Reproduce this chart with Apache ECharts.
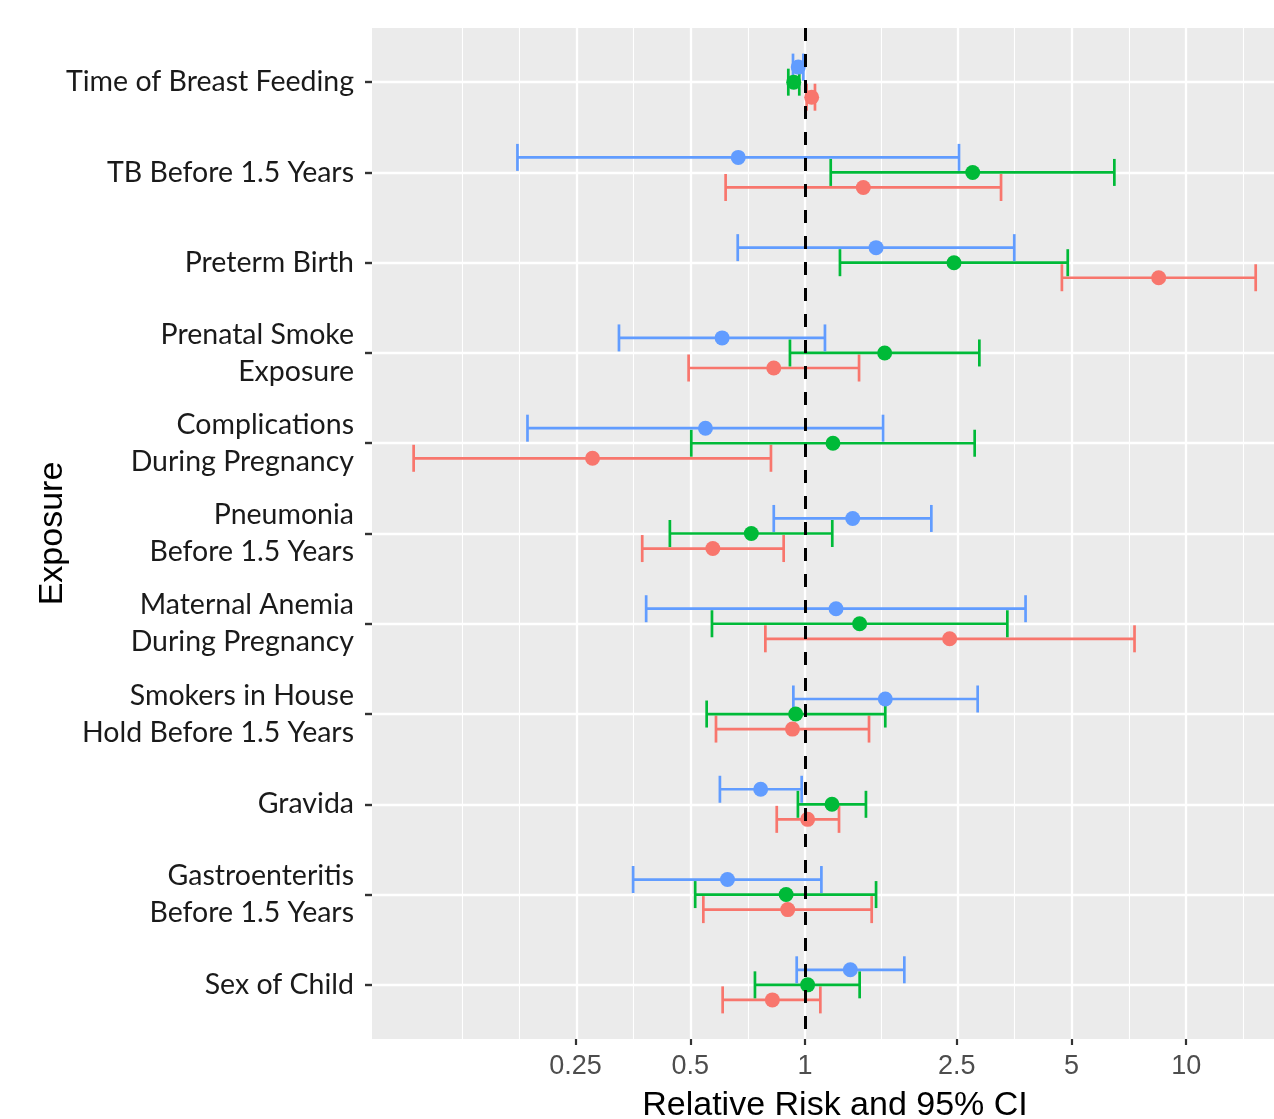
<!DOCTYPE html>
<html><head><meta charset="utf-8">
<script src="https://cdn.jsdelivr.net/npm/echarts@6/dist/echarts.min.js"></script>
<style>html,body{margin:0;padding:0;background:#fff}#c{width:1274px;height:1119px}</style>
</head><body><div id="c"></div>
<script>
// ---------- data ----------
const categories = [
  'Time of Breast Feeding',
  'TB Before 1.5 Years',
  'Preterm Birth',
  'Prenatal Smoke\nExposure',
  'Complications\nDuring Pregnancy',
  'Pneumonia\nBefore 1.5 Years',
  'Maternal Anemia\nDuring Pregnancy',
  'Smokers in House\nHold Before 1.5 Years',
  'Gravida',
  'Gastroenteritis\nBefore 1.5 Years',
  'Sex of Child'
];
const tickValues = [0.25, 0.5, 1, 2.5, 5, 10];
const tickLabels = ['0.25', '0.5', '1', '2.5', '5', '10'];
const minorGridValues = [0.125, 0.1768, 0.3536, 0.7071, 1.581, 3.536, 7.071, 14.14];
const xLimits = [0.0731, 17.0];
const refValue = 1;

const redEst   = [1.041, 1.422, 8.47, 0.828, 0.277, 0.573, 2.396, 0.927, 1.016, 0.901, 0.821];
const redLow   = [1.010, 0.619, 4.72, 0.495, 0.094, 0.374, 0.787, 0.584, 0.843, 0.541, 0.608];
const redHigh  = [1.062, 3.268, 15.22, 1.386, 0.814, 0.879, 7.32, 1.472, 1.228, 1.496, 1.097];

const greenEst  = [0.934, 2.754, 2.46, 1.618, 1.184, 0.723, 1.391, 0.945, 1.177, 0.892, 1.016];
const greenLow  = [0.904, 1.168, 1.235, 0.913, 0.503, 0.442, 0.570, 0.552, 0.958, 0.515, 0.739];
const greenHigh = [0.966, 6.48, 4.89, 2.867, 2.787, 1.179, 3.395, 1.624, 1.445, 1.536, 1.391];

const blueEst  = [0.960, 0.668, 1.536, 0.606, 0.548, 1.334, 1.206, 1.624, 0.765, 0.626, 1.315];
const blueLow  = [0.930, 0.176, 0.666, 0.325, 0.187, 0.828, 0.383, 0.932, 0.598, 0.354, 0.951];
const blueHigh = [0.990, 2.535, 3.54, 1.128, 1.602, 2.145, 3.79, 2.838, 0.980, 1.104, 1.822];

// ---------- build ----------
const L = Math.log10;
const groups = [
  { name: 'Group 1', color: '#F8766D', est: redEst, low: redLow, high: redHigh, dodge: 1 / 6 },
  { name: 'Group 2', color: '#00BA38', est: greenEst, low: greenLow, high: greenHigh, dodge: 0 },
  { name: 'Group 3', color: '#619CFF', est: blueEst, low: blueLow, high: blueHigh, dodge: -1 / 6 }
];
const catIdx = categories.map((_, i) => i);

const series = [];
// background grid lines (panel)
series.push({
  type: 'scatter', name: 'grid', data: [], silent: true, z: 1,
  markLine: {
    silent: true, symbol: 'none', z: 1, animation: false,
    label: { show: false },
    data: [
      ...minorGridValues.map(v => ({ xAxis: L(v), lineStyle: { color: '#FFFFFF', width: 1.1, type: 'solid' } })),
      ...tickValues.map(v => ({ xAxis: L(v), lineStyle: { color: '#FFFFFF', width: 2.3, type: 'solid' } })),
      ...catIdx.map(i => ({ yAxis: i, lineStyle: { color: '#FFFFFF', width: 2.4, type: 'solid' } }))
    ]
  }
});
// error bars
groups.forEach(g => {
  series.push({
    type: 'custom', name: g.name, z: 3, silent: true,
    encode: { x: [1, 2], y: 0 },
    data: catIdx.map(i => [i + g.dodge, L(g.low[i]), L(g.high[i])]),
    renderItem: (params, api) => {
      const y = api.value(0);
      const p1 = api.coord([api.value(1), y]);
      const p2 = api.coord([api.value(2), y]);
      const h = 13.5;
      const style = { stroke: g.color, lineWidth: 2.7, fill: null };
      return {
        type: 'group', children: [
          { type: 'line', shape: { x1: p1[0], y1: p1[1], x2: p2[0], y2: p2[1] }, style },
          { type: 'line', shape: { x1: p1[0], y1: p1[1] - h, x2: p1[0], y2: p1[1] + h }, style },
          { type: 'line', shape: { x1: p2[0], y1: p2[1] - h, x2: p2[0], y2: p2[1] + h }, style }
        ]
      };
    }
  });
});
// points
groups.forEach(g => {
  series.push({
    type: 'scatter', name: g.name, z: 4, symbol: 'circle', symbolSize: 15,
    itemStyle: { color: g.color, opacity: 1 },
    data: catIdx.map(i => [L(g.est[i]), i + g.dodge])
  });
});
// reference line
series.push({
  type: 'scatter', name: 'ref', data: [], silent: true, z: 10,
  markLine: {
    silent: true, symbol: 'none', z: 10, animation: false,
    label: { show: false },
    lineStyle: { color: '#000', width: 3, type: [13, 13] },
    data: [{ xAxis: L(refValue) }]
  }
});

const chart = echarts.init(document.getElementById('c'), null, { renderer: 'canvas' });
chart.setOption({
  animation: false,
  backgroundColor: '#FFFFFF',
  grid: {
    left: 372, top: 28, width: 902, height: 1011, show: true,
    backgroundColor: '#EBEBEB', borderWidth: 0,
    containLabel: false, outerBoundsMode: 'none'
  },
  xAxis: {
    type: 'value', min: L(xLimits[0]), max: L(xLimits[1]),
    name: 'Relative Risk and 95% CI', nameLocation: 'middle', nameGap: 50,
    nameMoveOverlap: false,
    nameTextStyle: { fontFamily: 'Liberation Sans', fontSize: 34, color: '#000', padding: [0, 0, 0, 24] },
    axisLine: { show: false, onZero: false },
    axisTick: { show: true, length: 6, lineStyle: { color: '#333', width: 2.2 }, customValues: tickValues.map(L) },
    axisLabel: {
      customValues: tickValues.map(L), margin: 14,
      fontFamily: 'Liberation Sans', fontSize: 27, color: '#4D4D4D',
      formatter: v => { const k = tickValues.findIndex(t => Math.abs(L(t) - v) < 1e-6); return k >= 0 ? tickLabels[k] : ''; }
    },
    splitLine: { show: false }
  },
  yAxis: {
    type: 'value', min: -0.6, max: 10.6, inverse: true,
    name: 'Exposure', nameLocation: 'middle', nameRotate: 90, nameGap: 302,
    nameMoveOverlap: false,
    nameTextStyle: { fontFamily: 'Liberation Sans', fontSize: 34, color: '#000' },
    axisLine: { show: false, onZero: false },
    axisTick: { show: true, length: 7, lineStyle: { color: '#333', width: 2.4 }, customValues: catIdx },
    axisLabel: {
      customValues: catIdx, margin: 18,
      fontFamily: 'Lato', fontSize: 28.5, color: '#1A1A1A', lineHeight: 37,
      formatter: v => categories[Math.round(v)] || ''
    },
    splitLine: { show: false }
  },
  series
});
</script></body></html>
